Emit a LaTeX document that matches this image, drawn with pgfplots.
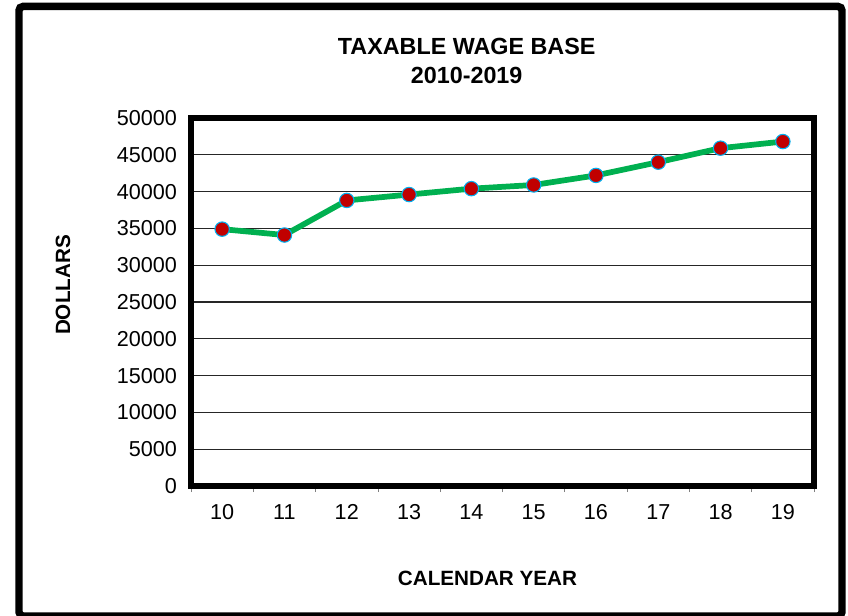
\documentclass[border=0pt]{standalone}
\usepackage{pgfplots}
\pgfplotsset{compat=1.18}
\usepackage{fontspec}
\setmainfont{Liberation Sans}
\definecolor{linegreen}{RGB}{0,176,80}
\definecolor{markred}{RGB}{192,0,0}
\definecolor{markblue}{RGB}{0,176,240}

\begin{document}
\begin{tikzpicture}
\useasboundingbox (0,0) rectangle (636pt,461.25pt);
\draw[line width=5.6pt, rounded corners=3pt] (14.25pt,-0.75pt) rectangle (631.5pt,456.4pt);
\begin{axis}[
  at={(143.25pt,96.75pt)}, anchor=south west,
  scale only axis, width=467.25pt, height=276pt,
  xmin=-0.5, xmax=9.5, ymin=0, ymax=50000,
  xtick={0,...,9}, xticklabels={10,11,12,13,14,15,16,17,18,19},
  minor xtick={-0.5,0.5,...,9.5},
  ytick={0,5000,...,50000},
  ymajorgrids, major grid style={line width=0.8pt, black!85},
  axis line style={line width=4pt},
  major tick length=0pt,
  minor tick length=4.5pt,
  tick align=outside, xtick pos=bottom, ytick pos=left,
  minor tick style={gray, line width=0.6pt},
  tick label style={font=\fontsize{16.2}{19}\selectfont},
  /pgf/number format/assume math mode=true,
  /pgf/number format/1000 sep={},
  scaled y ticks=false,
  yticklabel style={xshift=-7pt},
  xticklabel style={anchor=base, yshift=-25pt},
  clip=false,
]
\addplot[linegreen, line width=4.3pt, mark=*, mark size=5.4pt,
  mark options={fill=markred, draw=markblue, line width=0.8pt}]
  coordinates {(0,34900) (1,34100) (2,38800) (3,39600) (4,40400)
               (5,40900) (6,42200) (7,44000) (8,45900) (9,46800)};
\end{axis}
\node[font=\bfseries\fontsize{17.5}{21}\selectfont, anchor=base] at (350pt,420pt) {TAXABLE WAGE BASE};
\node[font=\bfseries\fontsize{17.5}{21}\selectfont, anchor=base] at (350pt,398.25pt) {2010-2019};
\node[font=\bfseries\fontsize{15.5}{18}\selectfont, rotate=90] at (47.25pt,247.5pt) {DOLLARS};
\node[font=\bfseries\fontsize{15.5}{18}\selectfont] at (365.6pt,27.75pt) {CALENDAR YEAR};
\end{tikzpicture}
\end{document}
